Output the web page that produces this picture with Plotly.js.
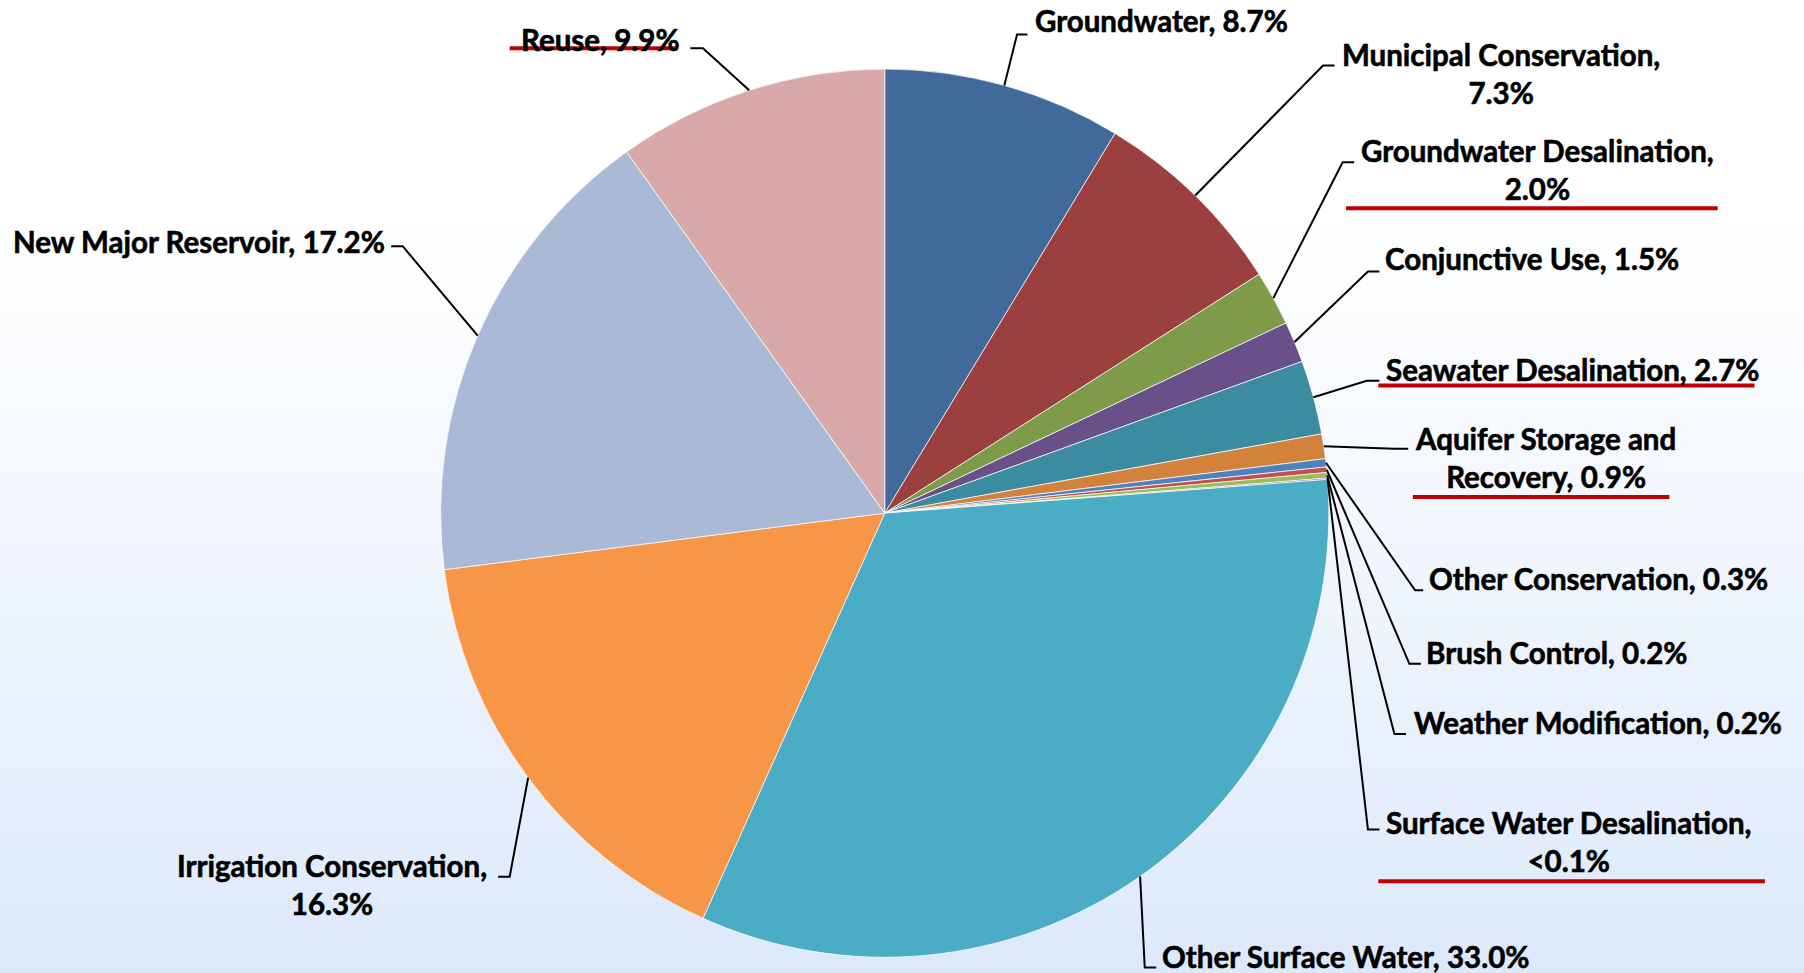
<!DOCTYPE html>
<html>
<head>
<meta charset="utf-8">
<script src="https://cdn.plot.ly/plotly-3.0.1.min.js"></script>
<style>
  html, body { margin: 0; padding: 0; width: 1804px; height: 973px; overflow: hidden; }
  body { background: linear-gradient(to bottom, #ffffff 0%, #ffffff 22%, #f4f8fe 50%, #dce9fb 100%); }
  #chart { width: 1804px; height: 973px; }
  .annotation-text { stroke: #000; stroke-width: 0.6px; }
</style>
</head>
<body>
<div id="chart"></div>
<script>
// ---- Data ----
const categories = [
  "Groundwater", "Municipal Conservation", "Groundwater Desalination", "Conjunctive Use",
  "Seawater Desalination", "Aquifer Storage and Recovery", "Other Conservation", "Brush Control",
  "Weather Modification", "Surface Water Desalination", "Other Surface Water",
  "Irrigation Conservation", "New Major Reservoir", "Reuse"
];
const values = [8.7, 7.3, 2.0, 1.5, 2.7, 0.9, 0.3, 0.2, 0.2, 0.05, 33.0, 16.3, 17.2, 9.9];
const colors = [
  "#416A9B", "#9B403E", "#7E9B4A", "#6A5088", "#3B8BA1", "#D3823B", "#4F81BD",
  "#C0504D", "#9BBB59", "#8064A2", "#4BACC6", "#F79646", "#AAB9D6", "#D9A9A9"
];

// ---- Layout of labels (coordinates in a 1568 x 846 reference frame) ----
// side: which side of the label box the anchor x refers to; brk: text after which the line wraps
const labelLayout = [
  { x: 898,  y: 18,    side: "left",  brk: null,   elbow: [884, 30],  end: [893, 30] },
  { x: 1165, y: 64,    side: "left",  brk: ", ",   elbow: [1150, 57], end: [1160, 57] },
  { x: 1181, y: 147.5, side: "left",  brk: ", ",   elbow: [1167, 141], end: [1177, 141], ul: [1170, 1493, 181] },
  { x: 1202, y: 225,   side: "left",  brk: null,   elbow: [1189, 236], end: [1199, 236] },
  { x: 1203, y: 321,   side: "left",  brk: null,   elbow: [1188, 331], end: [1199, 331], ul: [1198, 1525, 335] },
  { x: 1228, y: 397.5, side: "left",  brk: "and ", elbow: [1212, 390], end: [1224, 390], ul: [1228, 1451, 432] },
  { x: 1240, y: 503,   side: "left",  brk: null,   elbow: [1230, 513], end: [1237, 513] },
  { x: 1238, y: 567,   side: "left",  brk: null,   elbow: [1225, 577], end: [1235, 577] },
  { x: 1227, y: 628,   side: "left",  brk: null,   elbow: [1212, 638], end: [1222, 638] },
  { x: 1203, y: 731.5, side: "left",  brk: ", ",   elbow: [1189, 721], end: [1199, 721], ul: [1198, 1534, 766] },
  { x: 1008, y: 831,   side: "left",  brk: null,   elbow: [995, 841], end: [1005, 841] },
  { x: 425,  y: 769,   side: "right", brk: ", ",   elbow: [443, 762], end: [433, 762] },
  { x: 336,  y: 210,   side: "right", brk: null,   elbow: [350, 214], end: [340, 214] },
  { x: 593,  y: 34,    side: "right", brk: null,   elbow: [611, 42],  end: [600, 42], ul: [443, 589, 42] }
];

const W = 1804, H = 973;
const RW = 1568, RH = H * RW / W;           // reference frame
const fx = x => x / RW;                      // to paper x
const fy = y => 1 - y / RH;                  // to paper y

// pie geometry in reference frame
const PC = [769, 446], PR = 386;
const sc = W / RW;
const cxPx = PC[0] * sc, cyPx = PC[1] * sc, rPx = PR * sc;
const domainX = [(cxPx - rPx) / W, (cxPx + rPx) / W];
const domainY = [(H - cyPx - rPx) / H, (H - cyPx + rPx) / H];

const pctText = v => v < 0.1 ? "<0.1%" : v.toFixed(1) + "%";

const total = values.reduce((a, b) => a + b, 0);
let cum = 0;
const annotations = [];
const shapes = [];
categories.forEach((name, i) => {
  const mid = (cum + values[i] / 2) / total;
  cum += values[i];
  const ang = mid * 2 * Math.PI;
  const ex = PC[0] + PR * Math.sin(ang);
  const ey = PC[1] - PR * Math.cos(ang);
  const L = labelLayout[i];
  let text = name + ", " + pctText(values[i]);
  if (L.brk) text = text.replace(L.brk, L.brk.trimEnd() + "<br>");
  annotations.push({
    xref: "paper", yref: "paper", x: fx(L.x), y: fy(L.y),
    xanchor: L.side, yanchor: "middle", align: "center",
    text: text, showarrow: false,
    font: { family: "Lato, 'Open Sans', sans-serif", size: 29.5, color: "#000", weight: 700 }
  });
  shapes.push({
    type: "path", xref: "paper", yref: "paper",
    path: `M ${fx(ex)} ${fy(ey)} L ${fx(L.elbow[0])} ${fy(L.elbow[1])} L ${fx(L.end[0])} ${fy(L.end[1])}`,
    line: { color: "#000", width: 2 }
  });
  if (L.ul) {
    shapes.push({
      type: "line", xref: "paper", yref: "paper",
      x0: fx(L.ul[0]), x1: fx(L.ul[1]), y0: fy(L.ul[2]), y1: fy(L.ul[2]),
      line: { color: "#C00000", width: 4 }
    });
  }
});

const trace = {
  type: "pie",
  labels: categories,
  values: values,
  sort: false,
  direction: "clockwise",
  rotation: 0,
  textinfo: "none",
  hoverinfo: "label+percent",
  marker: { colors: colors, line: { color: "rgba(255,255,255,0.7)", width: 1 } },
  domain: { x: domainX, y: domainY },
  showlegend: false
};

Plotly.newPlot("chart", [trace], {
  width: W, height: H,
  margin: { l: 0, r: 0, t: 0, b: 0 },
  paper_bgcolor: "rgba(0,0,0,0)",
  plot_bgcolor: "rgba(0,0,0,0)",
  showlegend: false,
  annotations: annotations,
  shapes: shapes
}, { displayModeBar: false, staticPlot: true });
</script>
</body>
</html>
